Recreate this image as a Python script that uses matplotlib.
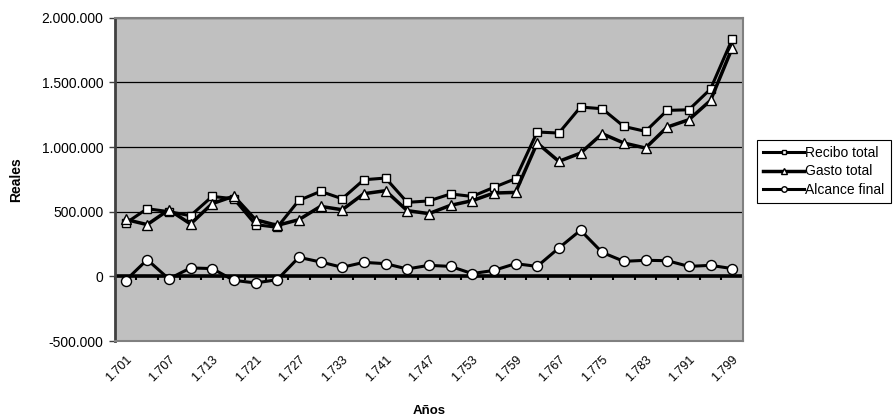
import numpy as np
import matplotlib.pyplot as plt
from matplotlib.ticker import FuncFormatter

plt.rcParams["font.family"] = ["Liberation Sans", "DejaVu Sans"]

# years on the category axis (only every second one is labelled)
years = [1701, 1704, 1707, 1710, 1713, 1717, 1721, 1724, 1727, 1730,
         1733, 1737, 1741, 1744, 1747, 1750, 1753, 1756, 1759, 1763,
         1767, 1771, 1775, 1779, 1783, 1787, 1791, 1795, 1799]

recibo = [410000, 523000, 500000, 469000, 618000, 600000, 400000, 379000,
          587000, 657000, 600000, 747000, 760000, 572000, 583000, 637000,
          618000, 688000, 755000, 1116000, 1108000, 1309000, 1296000,
          1159000, 1121000, 1283000, 1288000, 1448000, 1834000]
gasto = [440000, 400000, 515000, 405000, 562000, 620000, 438000, 394000,
         438000, 541000, 515000, 639000, 662000, 508000, 485000, 549000,
         585000, 644000, 649000, 1031000, 889000, 953000, 1103000,
         1031000, 992000, 1154000, 1211000, 1360000, 1765000]
alcance = [-33000, 129000, -20000, 65000, 60000, -31000, -51000, -26000,
           147000, 111000, 70000, 108000, 98000, 57000, 85000, 77000,
           21000, 46000, 98000, 77000, 219000, 356000, 185000, 116000,
           124000, 121000, 77000, 85000, 60000]


def miles(v, pos=None):
    return "{:,.0f}".format(v).replace(",", ".")


fig = plt.figure(figsize=(8.94, 4.18), dpi=100)
ax = fig.add_axes([0.1283, 0.1842, 0.7028, 0.7735])
ax.set_facecolor("#c0c0c0")

x = np.arange(len(years))

ax.plot(x, recibo, color="black", lw=2.2, marker="s", ms=6.3,
        mfc="white", mec="black", mew=1.0, label="Recibo total", zorder=3)
ax.plot(x, gasto, color="black", lw=2.5, marker="^", ms=7.8,
        mfc="white", mec="black", mew=1.0, label="Gasto total", zorder=4)
ax.plot(x, alcance, color="black", lw=2.2, marker="o", ms=7.2,
        mfc="white", mec="black", mew=1.0, label="Alcance final", zorder=3)

ax.set_xlim(-0.5, len(years) - 0.5)
ax.set_ylim(-500000, 2000000)
ax.set_yticks(np.arange(-500000, 2000001, 500000))
ax.yaxis.set_major_formatter(FuncFormatter(miles))
ax.yaxis.grid(True, color="black", lw=0.9)
ax.set_axisbelow(True)

# category labels every two years at the bottom
ax.set_xticks(x[::2])
ax.set_xticklabels(["{:,}".format(y).replace(",", ".") for y in years[::2]],
                   rotation=45, ha="right", rotation_mode="anchor")
ax.tick_params(axis="x", length=0, pad=9, labelsize=9)
ax.tick_params(axis="y", length=4, width=1, color="#404040",
               labelsize=10, pad=4)

# zero line with tick marks between categories
ax.axhline(0, color="black", lw=2.6, zorder=2)
sec = ax.secondary_xaxis(0.2)
sec.set_xticks(np.arange(-0.5, len(years), 1))
sec.tick_params(axis="x", length=3, width=1.5, color="black",
                labelbottom=False)
sec.spines["bottom"].set_visible(False)

for side in ["top", "right", "bottom"]:
    ax.spines[side].set_color("#808080")
    ax.spines[side].set_linewidth(1.5)
ax.spines["left"].set_color("#404040")
ax.spines["left"].set_linewidth(2)

ax.set_ylabel("Reales", fontsize=10, fontweight="bold")
ax.yaxis.set_label_coords(-0.145, 0.5)
ax.set_xlabel("Años", fontsize=9.5, fontweight="bold")
ax.xaxis.set_label_coords(0.5, -0.198)

leg = fig.legend(loc="center left", bbox_to_anchor=(0.847, 0.59),
                 fontsize=10, frameon=True, fancybox=False,
                 edgecolor="black", framealpha=1, markerscale=0.55,
                 handlelength=2.9, labelspacing=0.3, handletextpad=0.1,
                 borderpad=0.45, borderaxespad=0)
leg.get_frame().set_linewidth(0.8)

fig.savefig("out.png", dpi=100)
